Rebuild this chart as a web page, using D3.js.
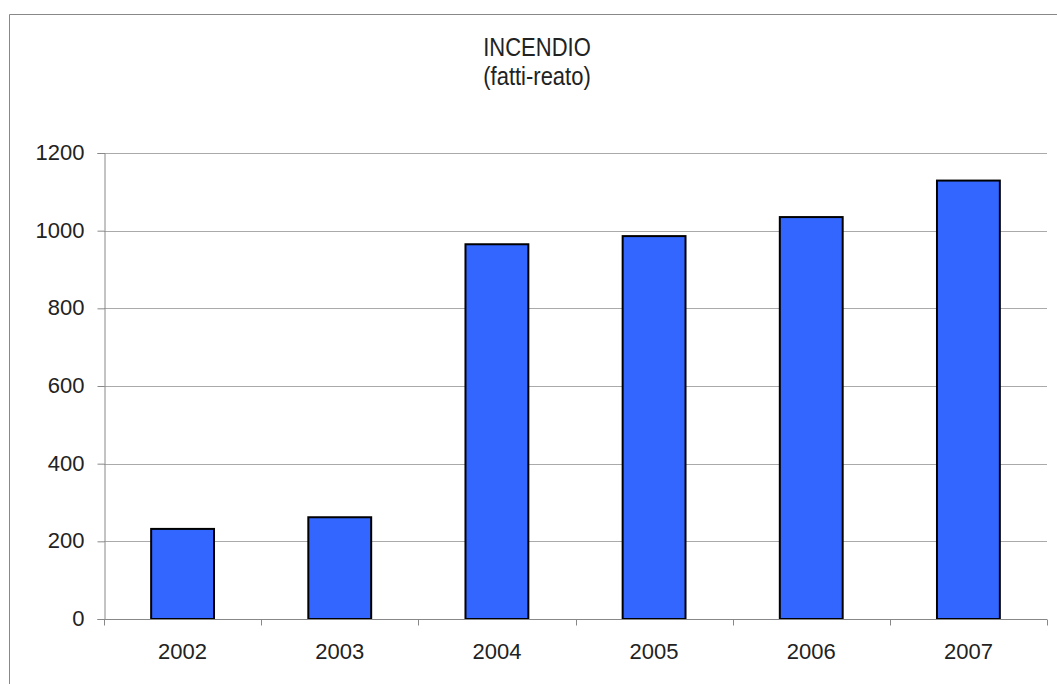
<!DOCTYPE html>
<html>
<head>
<style>
  body { margin: 0; background: #fff; }
  text { font-family: "Liberation Sans", Arial, sans-serif; fill: #222; }
</style>
</head>
<body>

<script src="https://d3js.org/d3.v7.min.js"></script>

<script>

const years = ['2002', '2003', '2004', '2005', '2006', '2007'];
const values = [232, 262, 965, 986, 1035, 1129];
const yTicks = [0, 200, 400, 600, 800, 1000, 1200];

const width = 1057;
const height = 684;
const margin = { left: 104, right: 10, top: 153, bottom: 65 };
const fontSize = 22;

const svg = d3.select('body')
              .append('svg')
              .attr('width', width)
              .attr('height', height);

// outer frame (runs off right and bottom)
svg.append('path')
  .attr('d', 'M9.5,684 V14.5 H1057')
  .attr('fill', 'none')
  .attr('stroke', '#888')
  .attr('stroke-width', 1);

// title, a bit taller than wide like the original
const title = svg.append('g')
  .attr('transform', 'translate(537,0) scale(1,1.18)');
title.append('text')
  .attr('x', 0).attr('y', 56 / 1.18)
  .attr('text-anchor', 'middle')
  .attr('font-size', fontSize)
  .text('INCENDIO');
title.append('text')
  .attr('x', 0).attr('y', 85 / 1.18)
  .attr('text-anchor', 'middle')
  .attr('font-size', fontSize)
  .text('(fatti-reato)');

const x = d3.scaleBand()
            .domain(years)
            .range([margin.left, width - margin.right])
            .paddingInner(0.6)
            .paddingOuter(0.3);

const y = d3.scaleLinear()
            .domain([0, 1200])
            .range([height - margin.bottom, margin.top]);

// gridlines
svg.append('g')
  .selectAll('line')
  .data(yTicks.filter(d => d > 0))
  .join('line')
    .attr('x1', margin.left)
    .attr('x2', width - margin.right)
    .attr('y1', d => Math.round(y(d)) + 0.5)
    .attr('y2', d => Math.round(y(d)) + 0.5)
    .attr('stroke', '#aaa')
    .attr('stroke-width', 1);

// bars
svg.append('g')
  .selectAll('rect')
  .data(values)
  .join('rect')
    .attr('x', (d, i) => x(years[i]))
    .attr('y', d => y(d))
    .attr('width', x.bandwidth())
    .attr('height', d => y(0) - y(d))
    .attr('fill', '#3366FF')
    .attr('stroke', '#000')
    .attr('stroke-width', 2);

// y axis
const yAxis = svg.append('g')
  .attr('transform', `translate(${margin.left + 0.5},0)`)
  .call(d3.axisLeft(y).tickValues(yTicks).tickSize(7).tickPadding(13).tickFormat(d3.format('d')));
yAxis.selectAll('path, line').attr('stroke', '#888');
yAxis.selectAll('text')
  .attr('font-size', fontSize)
  .attr('dy', '0.3em')
  .style('font-family', '"Liberation Sans", Arial, sans-serif')
  .attr('fill', '#222');

// x axis with ticks at band boundaries
const xAxisG = svg.append('g')
  .attr('transform', `translate(0,${Math.round(y(0)) + 0.5})`);
xAxisG.append('line')
  .attr('x1', margin.left).attr('x2', width - margin.right)
  .attr('stroke', '#888');
const edges = d3.range(years.length + 1).map(i => margin.left + (width - margin.left - margin.right) * i / years.length);
xAxisG.selectAll('.tk')
  .data(edges)
  .join('line')
    .attr('class', 'tk')
    .attr('x1', d => Math.round(d) + 0.5).attr('x2', d => Math.round(d) + 0.5)
    .attr('y1', 0).attr('y2', 6)
    .attr('stroke', '#888');
xAxisG.selectAll('.lbl')
  .data(years)
  .join('text')
    .attr('class', 'lbl')
    .attr('x', d => x(d) + x.bandwidth() / 2)
    .attr('y', 39)
    .attr('text-anchor', 'middle')
    .attr('font-size', fontSize)
    .text(d => d);

</script>
</body>
</html>
